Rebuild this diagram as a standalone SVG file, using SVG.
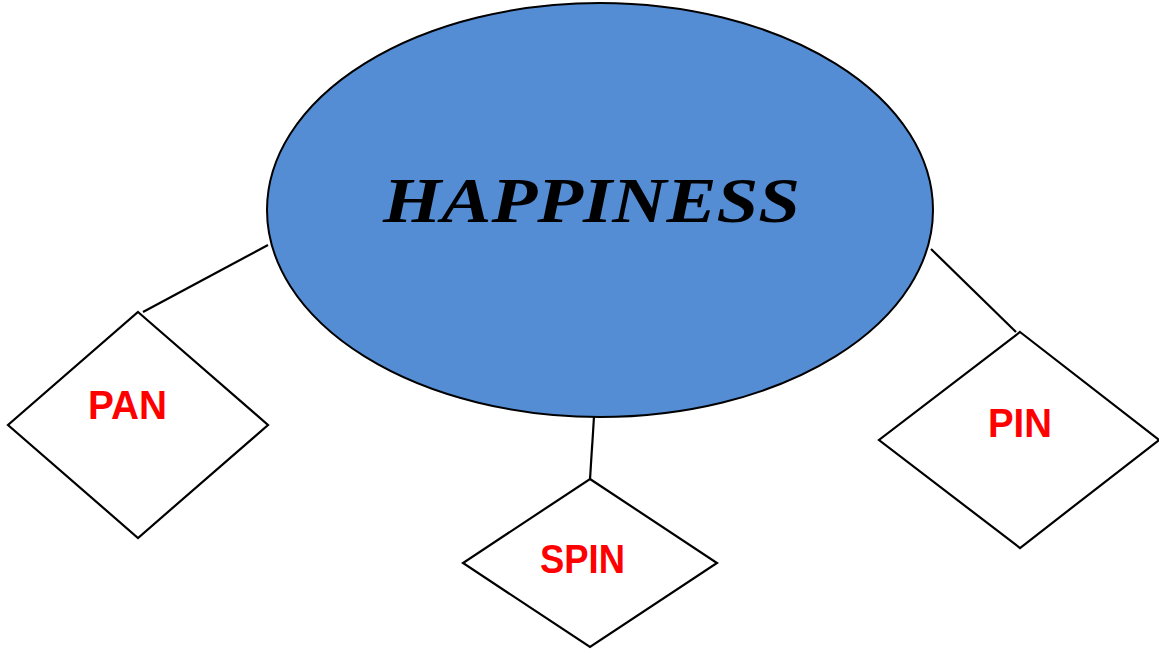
<svg xmlns="http://www.w3.org/2000/svg" width="1159" height="653" viewBox="0 0 1159 653">
<style>
.dia{fill:#ffffff;stroke:#000000;stroke-width:2.2}
.lbl{font-family:"Liberation Sans",Arial,sans-serif;font-weight:bold;font-size:40px;fill:#ff0000}
.conn line{stroke:#000000;stroke-width:2.2}
</style>
<rect width="1159" height="653" fill="#ffffff"/>
<g id="connectors" class="conn">
<line x1="143" y1="312" x2="268" y2="245"/>
<line x1="590" y1="479" x2="594" y2="417"/>
<line x1="931" y1="249" x2="1016" y2="332"/>
</g>
<g id="happiness">
<ellipse cx="600" cy="210" rx="333" ry="207" fill="#548DD4" stroke="#000000" stroke-width="2"/>
<text x="383" y="222" font-family="'Liberation Serif','Times New Roman',serif" font-style="italic" font-weight="bold" font-size="64" textLength="417" lengthAdjust="spacingAndGlyphs" fill="#000000">HAPPINESS</text>
</g>
<g id="pan">
<polygon class="dia" points="138,312 268,425 138,538 8,425"/>
<text class="lbl" x="88" y="419" textLength="79" lengthAdjust="spacingAndGlyphs">PAN</text>
</g>
<g id="spin">
<polygon class="dia" points="590,479 717,563 590,647 463,563"/>
<text class="lbl" x="540" y="573" textLength="85" lengthAdjust="spacingAndGlyphs">SPIN</text>
</g>
<g id="pin">
<polygon class="dia" points="1020,332 1159,440 1020,548 879,440"/>
<text class="lbl" x="988" y="437" textLength="64" lengthAdjust="spacingAndGlyphs">PIN</text>
</g>
</svg>
